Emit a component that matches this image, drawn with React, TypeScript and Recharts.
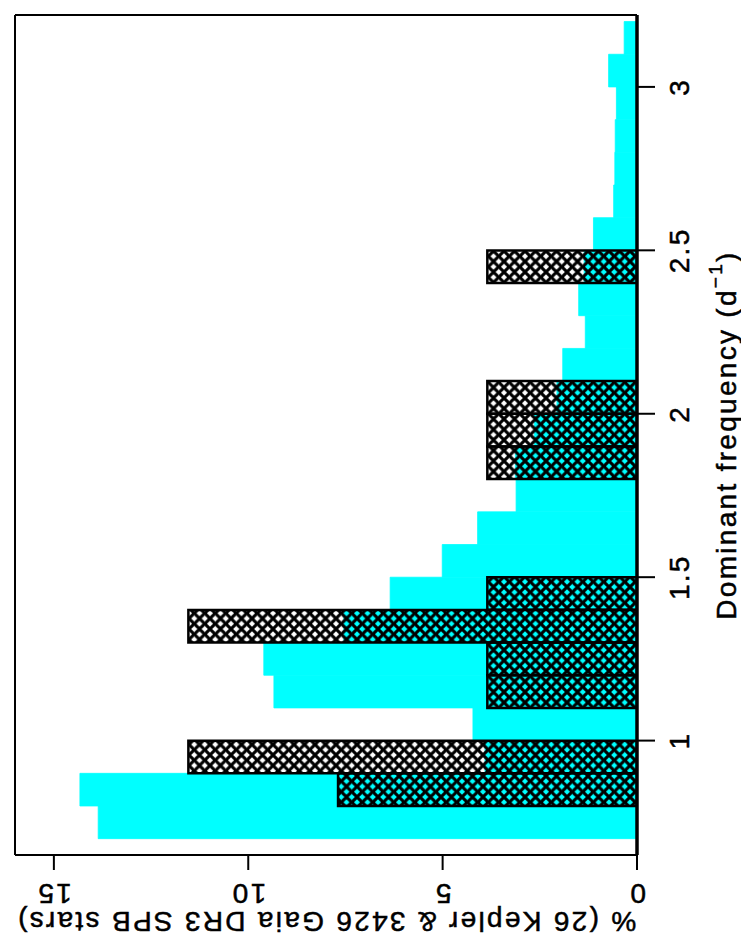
import React from 'react';
import { ComposedChart, Bar, XAxis, YAxis, Label } from 'recharts';

// Centres of the 0.1 d^-1 frequency bins
const freqBins = [0.75, 0.85, 0.95, 1.05, 1.15, 1.25, 1.35, 1.45, 1.55, 1.65, 1.75, 1.85, 1.95, 2.05, 2.15, 2.25, 2.35, 2.45, 2.55, 2.65, 2.75, 2.85, 2.95, 3.05, 3.15];
// Gaia DR3 SPB stars, percentage per bin (cyan)
const gaiaPct = [13.86, 14.33, 3.91, 4.22, 9.34, 9.6, 7.54, 6.35, 5.01, 4.1, 3.11, 3.13, 2.64, 2.06, 1.91, 1.33, 1.5, 1.36, 1.12, 0.6, 0.57, 0.56, 0.53, 0.73, 0.33];
// Kepler SPB stars, percentage per bin (cross-hatched)
const keplerPct: (number | null)[] = [null, 7.69, 11.54, null, 3.85, 3.85, 11.54, 3.85, null, null, null, 3.85, 3.85, 3.85, null, null, null, 3.85, null, null, null, null, null, null, null];

const freqMajorTicks = [1, 1.5, 2, 2.5, 3];
const freqMinorTicks = [0.7, 0.8, 0.9, 1.0, 1.1, 1.2, 1.3, 1.4, 1.5, 1.6, 1.7, 1.8, 1.9, 2.0, 2.1, 2.2, 2.3, 2.4, 2.5, 2.6, 2.7, 2.8, 2.9, 3.0, 3.1, 3.2];
const pctMajorTicks = [0, 5, 10, 15];
const pctMinorTicks = [0, 1, 2, 3, 4, 5, 6, 7, 8, 9, 10, 11, 12, 13, 14, 15, 16];

const FREQ_DOMAIN: [number, number] = [0.65, 3.22];
const PCT_DOMAIN: [number, number] = [0, 16];
const BIN_WIDTH = 0.1;

const data = freqBins.map((f, i) => ({ f, gaia: gaiaPct[i], kepler: keplerPct[i] }));

const W = 944;
const H = 741;
// each side carries two 1px-high axes
const margin = { top: 13, right: 13, bottom: 102, left: 87 };
const plotW = W - 89 - 15;
const BAR_SIZE = (plotW * BIN_WIDTH) / (FREQ_DOMAIN[1] - FREQ_DOMAIN[0]) - 0.05;

const FONT = '"Liberation Sans", Arial, Helvetica, sans-serif';
const FS = 28;
const LS = '2.3px';
const TXT_STROKE = 0.5;
const HATCH = 10.5;

const XTick = (props: any) => {
  const { x, y, payload } = props;
  return (
    <text x={x} y={y + 22} textAnchor="middle" dominantBaseline="central" fontSize={FS} fontFamily={FONT} fill="#000" stroke="#000" strokeWidth={TXT_STROKE} style={{ letterSpacing: LS }}>
      {payload.value}
    </text>
  );
};

const YTick = (props: any) => {
  const { x, y, payload } = props;
  const cx = x - 21;
  return (
    <text x={cx} y={y} transform={`rotate(-90 ${cx} ${y})`} textAnchor="middle" dominantBaseline="central" fontSize={FS} fontFamily={FONT} fill="#000" stroke="#000" strokeWidth={TXT_STROKE} style={{ letterSpacing: LS }}>
      {payload.value}
    </text>
  );
};

const XLabel = (props: any) => {
  const vb = props.viewBox || { x: 0, y: 0, width: 0, height: 0 };
  const cx = vb.x + vb.width / 2;
  const cy = vb.y + 89;
  return (
    <text x={cx} y={cy} textAnchor="middle" dominantBaseline="central" fontSize={FS} fontFamily={FONT} fill="#000" stroke="#000" strokeWidth={TXT_STROKE} style={{ letterSpacing: LS }}>
      Dominant frequency (d<tspan dy={-11} fontSize={19}>−1</tspan><tspan dy={11}>)</tspan>
    </text>
  );
};

const YLabel = (props: any) => {
  const vb = props.viewBox || { x: 0, y: 0, width: 0, height: 0 };
  const cx = vb.x + vb.width - 66;
  const cy = vb.y + vb.height / 2;
  return (
    <text x={cx} y={cy} transform={`rotate(-90 ${cx} ${cy})`} textAnchor="middle" dominantBaseline="central" fontSize={FS} fontFamily={FONT} fill="#000" stroke="#000" strokeWidth={TXT_STROKE} style={{ letterSpacing: LS }}>
      {'% (26 Kepler & 3426 Gaia DR3 SPB stars)'}
    </text>
  );
};

const frameLine = { stroke: '#000', strokeWidth: 2 };
const tickLineStyle = { stroke: '#000', strokeWidth: 2 };

export default function App() {
  const a = HATCH;
  return (
    <div style={{ position: 'absolute', left: 0, top: 0, width: 741, height: 944, overflow: 'hidden', background: '#fff' }}>
      <div style={{ position: 'absolute', left: 0, top: 0, width: W, height: H, transformOrigin: '0 0', transform: `translateY(${W}px) rotate(-90deg)` }}>
        <ComposedChart width={W} height={H} data={data} margin={margin} barCategoryGap={0} barGap={0}>
          <defs>
            <pattern id="xhatch" patternUnits="userSpaceOnUse" width={a} height={a}>
              <path
                d={`M-1,-1 L${a + 1},${a + 1} M-1,${a - 1} L1,${a + 1} M${a - 1},-1 L${a + 1},1 M-1,${a + 1} L${a + 1},-1 M-1,1 L1,-1 M${a - 1},${a + 1} L${a + 1},${a - 1}`}
                stroke="#000"
                strokeWidth={3.2}
                fill="none"
              />
            </pattern>
          </defs>

          <Bar xAxisId="fq" yAxisId="pct" dataKey="gaia" fill="#00FFFF" stroke="#00FFFF" strokeWidth={0.8} barSize={BAR_SIZE} isAnimationActive={false} />
          <Bar xAxisId="hatch" yAxisId="pctMinor" dataKey="kepler" fill="url(#xhatch)" stroke="#000" strokeWidth={2.5} barSize={BAR_SIZE} isAnimationActive={false} />

          <XAxis xAxisId="fq" dataKey="f" type="number" domain={FREQ_DOMAIN} allowDataOverflow ticks={freqMajorTicks} interval={0} height={1} tickSize={18} tickMargin={2} axisLine={{ stroke: '#000', strokeWidth: 3.5 }} tickLine={tickLineStyle} tick={<XTick />}>
            <Label content={XLabel} />
          </XAxis>
          <XAxis xAxisId="fqMinor" dataKey="f" type="number" domain={FREQ_DOMAIN} allowDataOverflow ticks={freqMinorTicks} interval={0} height={1} tickSize={10} axisLine={false} tickLine={tickLineStyle} tick={false} />
          <XAxis xAxisId="hatch" dataKey="f" type="number" domain={FREQ_DOMAIN} allowDataOverflow hide height={0} />
          <XAxis xAxisId="topMaj" orientation="top" dataKey="f" type="number" domain={FREQ_DOMAIN} allowDataOverflow ticks={freqMajorTicks} interval={0} height={1} tickSize={15} axisLine={frameLine} tickLine={tickLineStyle} tick={false} />
          <XAxis xAxisId="topMin" orientation="top" dataKey="f" type="number" domain={FREQ_DOMAIN} allowDataOverflow ticks={freqMinorTicks} interval={0} height={1} tickSize={8} axisLine={false} tickLine={tickLineStyle} tick={false} />

          <YAxis yAxisId="pct" type="number" domain={PCT_DOMAIN} allowDataOverflow ticks={pctMajorTicks} interval={0} width={1} tickSize={15} tickMargin={2} axisLine={frameLine} tickLine={tickLineStyle} tick={<YTick />}>
            <Label content={YLabel} />
          </YAxis>
          <YAxis yAxisId="pctMinor" type="number" domain={PCT_DOMAIN} allowDataOverflow ticks={pctMinorTicks} interval={0} width={1} tickSize={8} axisLine={false} tickLine={tickLineStyle} tick={false} />
          <YAxis yAxisId="rMaj" orientation="right" type="number" domain={PCT_DOMAIN} allowDataOverflow ticks={pctMajorTicks} interval={0} width={1} tickSize={15} axisLine={frameLine} tickLine={tickLineStyle} tick={false} />
          <YAxis yAxisId="rMin" orientation="right" type="number" domain={PCT_DOMAIN} allowDataOverflow ticks={pctMinorTicks} interval={0} width={1} tickSize={8} axisLine={false} tickLine={tickLineStyle} tick={false} />
        </ComposedChart>
      </div>
    </div>
  );
}
